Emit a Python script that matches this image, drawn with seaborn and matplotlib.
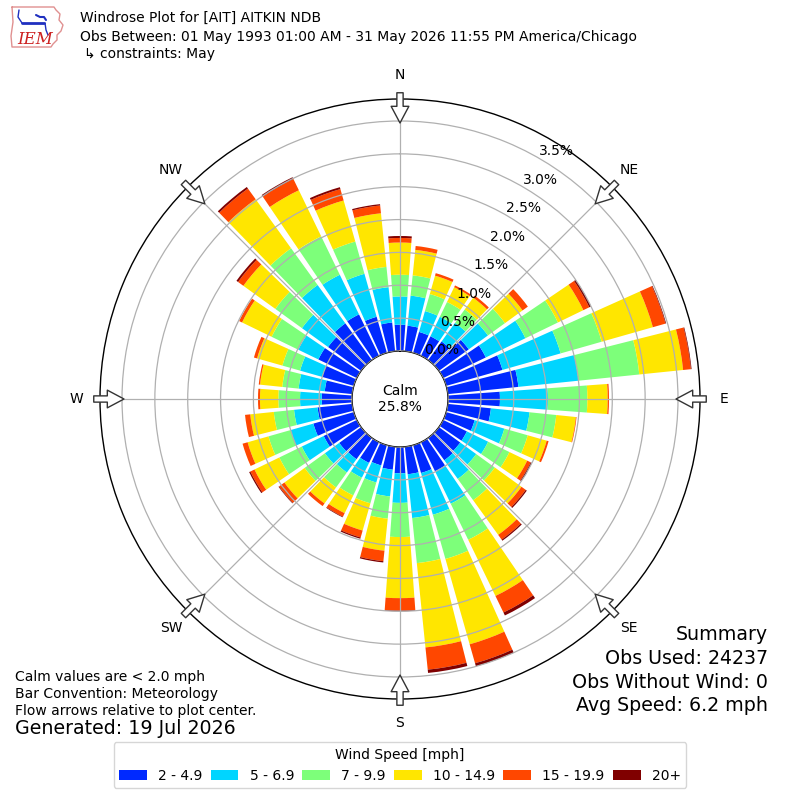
import numpy as np
import pandas as pd
import matplotlib
matplotlib.use("Agg")
import matplotlib.pyplot as plt
import seaborn as sns

# ----------------------
# Data (percent of obs, per 10 degree direction bin)
# ----------------------
directions = np.arange(0, 360, 10)
speed_labels = ["2 - 4.9", "5 - 6.9", "7 - 9.9", "10 - 14.9", "15 - 19.9", "20+"]

spd_2_5 = [0.40, 0.39, 0.33, 0.33, 0.35, 0.56, 0.72, 0.89, 1.08, 0.79, 0.66, 0.45,
           0.40, 0.40, 0.42, 0.49, 0.44, 0.42, 0.40, 0.35, 0.32, 0.35, 0.40, 0.41,
           0.56, 0.64, 0.53, 0.46, 0.42, 0.50, 0.65, 0.62, 0.69, 0.70, 0.57, 0.44]
spd_5_7 = [0.43, 0.46, 0.33, 0.33, 0.35, 0.36, 0.67, 0.92, 0.92, 0.73, 0.59, 0.47,
           0.36, 0.30, 0.35, 0.55, 0.66, 0.67, 0.45, 0.41, 0.27, 0.25, 0.25, 0.27,
           0.37, 0.36, 0.36, 0.33, 0.40, 0.35, 0.34, 0.49, 0.72, 0.67, 0.68, 0.54]
spd_7_10 = [0.33, 0.31, 0.27, 0.25, 0.25, 0.32, 0.55, 0.65, 0.93, 0.60, 0.41, 0.37,
            0.36, 0.35, 0.40, 0.61, 0.70, 0.69, 0.52, 0.34, 0.33, 0.30, 0.28, 0.38,
            0.38, 0.35, 0.31, 0.33, 0.25, 0.28, 0.45, 0.50, 0.69, 0.65, 0.51, 0.31]
spd_10_15 = [0.49, 0.39, 0.29, 0.25, 0.22, 0.33, 0.43, 0.81, 0.67, 0.31, 0.30, 0.30,
             0.30, 0.50, 0.65, 0.95, 1.35, 1.29, 0.93, 0.49, 0.43, 0.30, 0.30, 0.38,
             0.42, 0.33, 0.36, 0.28, 0.34, 0.40, 0.50, 0.60, 0.92, 0.78, 0.65, 0.82]
spd_15_20 = [0.07, 0.06, 0.04, 0.03, 0.04, 0.10, 0.10, 0.20, 0.12, 0.02, 0.01, 0.03,
             0.06, 0.08, 0.09, 0.28, 0.30, 0.34, 0.19, 0.16, 0.11, 0.06, 0.05, 0.10,
             0.07, 0.08, 0.08, 0.03, 0.02, 0.05, 0.05, 0.10, 0.20, 0.19, 0.18, 0.12]
spd_20_up = [0.03, 0.00, 0.00, 0.00, 0.00, 0.00, 0.03, 0.01, 0.01, 0.00, 0.00, 0.00,
             0.02, 0.02, 0.02, 0.05, 0.05, 0.05, 0.01, 0.02, 0.02, 0.01, 0.00, 0.01,
             0.02, 0.00, 0.00, 0.00, 0.00, 0.00, 0.00, 0.03, 0.03, 0.03, 0.03, 0.02]

calm_pct = 25.8
ring_values = [0.0, 0.5, 1.0, 1.5, 2.0, 2.5, 3.0, 3.5]
compass = ["N", "NE", "E", "SE", "S", "SW", "W", "NW"]
summary_lines = ["Summary", "Obs Used: 24237", "Obs Without Wind: 0", "Avg Speed: 6.2 mph"]
notes_lines = ["Calm values are < 2.0 mph", "Bar Convention: Meteorology",
               "Flow arrows relative to plot center."]

# ----------------------
# Plot
# ----------------------
sns.set_theme(style="white")
plt.rcParams["font.family"] = ["DejaVu Sans"]
plt.rcParams["text.color"] = "black"

df = pd.DataFrame(
    np.array([spd_2_5, spd_5_7, spd_7_10, spd_10_15, spd_15_20, spd_20_up]).T,
    index=directions, columns=speed_labels)
bottoms = df.cumsum(axis=1) - df
colors = sns.color_palette(list(matplotlib.colormaps["jet"](np.linspace(1 / 6, 1, 6))))

rmax = 3.835
fig = plt.figure(figsize=(8, 8), dpi=100)
ax = fig.add_axes([0.125, 0.12625, 0.75, 0.75], projection="polar")
ax.set_theta_zero_location("N")
ax.set_theta_direction(-1)
ax.set_rlim(0, rmax)
ax.set_rorigin(-0.731)

theta = np.radians(df.index.values)
for lab, col in zip(speed_labels, colors):
    ax.bar(theta, df[lab].values, width=np.radians(8.3), bottom=bottoms[lab].values,
           color=col, edgecolor="none", label=lab, zorder=1)

ax.set_axisbelow(False)
ax.set_thetagrids(range(0, 360, 45), labels=[""] * 8)
ax.set_rgrids(ring_values, labels=[""] * len(ring_values))
ax.grid(True, color="#b0b0b0", lw=0.9, zorder=2)
ax.spines["polar"].set_color("black")
ax.spines["polar"].set_linewidth(1.0)
if "inner" in ax.spines:
    ax.spines["inner"].set_color("black")
    ax.spines["inner"].set_linewidth(1.0)

for v in ring_values:
    ax.text(np.radians(30), v, f"{v:.1f}%", ha="left", va="bottom", fontsize=10, zorder=5)

for i, lab in enumerate(compass):
    t = np.radians(i * 45)
    ax.text(t, 4.20, lab, ha="center", va="center", fontsize=10, clip_on=False)
    ax.annotate("", xy=(t, 3.47), xytext=(t, 3.93), annotation_clip=False,
                arrowprops=dict(arrowstyle="simple,head_length=0.8,head_width=0.85,tail_width=0.3",
                                mutation_scale=15, fc="white", ec="#333333", lw=1.0,
                                shrinkA=0, shrinkB=0))

ax.text(0.5, 0.5, f"Calm\n{calm_pct:.1f}%", transform=ax.transAxes,
        ha="center", va="center", fontsize=10, zorder=6)

# header
fig.text(80 / 800, 1 - 18 / 800, "Windrose Plot for [AIT] AITKIN NDB", fontsize=10, va="center")
fig.text(80 / 800, 1 - 37 / 800,
         "Obs Between: 01 May 1993 01:00 AM - 31 May 2026 11:55 PM America/Chicago",
         fontsize=10, va="center")
fig.text(84 / 800, 1 - 54 / 800, "\u21b3 constraints: May", fontsize=10, va="center")

# logo
lax = fig.add_axes([10 / 800, 1 - 50 / 800, 56 / 800, 45 / 800])
lax.set_xlim(0, 56)
lax.set_ylim(0, 45)
lax.axis("off")
ox = [2, 44, 46, 50, 49, 53, 51, 47, 47, 43, 41, 2, 1, 3, 2]
oy = [43, 43, 40, 36, 30, 25, 19, 15, 10, 6, 3, 3, 14, 28, 43]
lax.plot(ox, oy, color="#e09090", lw=1.0)
lax.plot([12, 34], [27, 27], color="#2030c0", lw=2)
lax.plot([26, 30, 34, 36], [35, 33, 33, 30], color="#2030c0", lw=1.5)
lax.plot([12, 8, 9], [27, 33, 40], color="#2030c0", lw=1)
lax.plot([35, 36, 38], [27, 20, 15], color="#2030c0", lw=1)
lax.text(25, 10, "IEM", color="#cc2020", fontsize=12, style="italic",
         family="DejaVu Serif", ha="center", va="center")

# notes
for i, line in enumerate(notes_lines):
    fig.text(15 / 800, 1 - (677 + 17 * i) / 800, line, fontsize=10, va="center")
fig.text(15 / 800, 1 - 729 / 800, "Generated: 19 Jul 2026", fontsize=13.7, va="center")

for i, line in enumerate(summary_lines):
    fig.text(768 / 800, 1 - (635 + 23.5 * i) / 800, line, fontsize=13.7, ha="right", va="center")

leg = fig.legend(loc="lower center", bbox_to_anchor=(0.5, 0.006), ncol=6,
                 title="Wind Speed [mph]", fontsize=10, title_fontsize=10,
                 handlelength=2.0, handleheight=0.7, frameon=True, columnspacing=0.6)
leg.get_frame().set_edgecolor("#cccccc")

fig.savefig("out.png", dpi=100)
